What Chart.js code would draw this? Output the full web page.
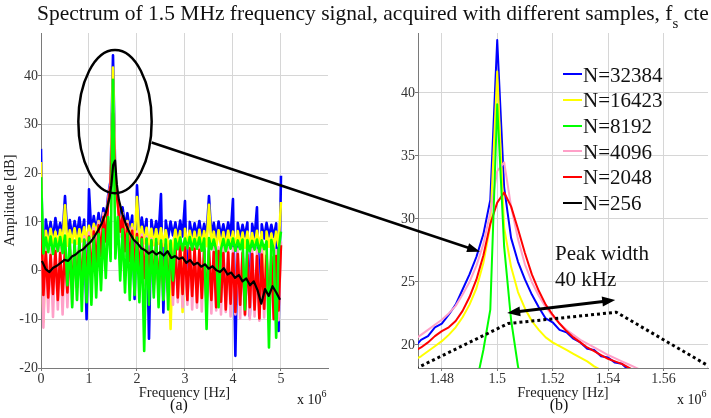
<!DOCTYPE html>
<html>
<head>
<meta charset="utf-8">
<script src="https://cdn.jsdelivr.net/npm/chart.js"></script>
<style>
    body { margin: 0; background: #fff; }
    #wrap { position: relative; width: 711px; height: 418px; overflow: hidden; background: #fff;
            font-family: 'Liberation Serif', 'Times New Roman', serif; color: #111; }
    #wrap canvas, #wrap .txt { position: absolute; }
    .txt { white-space: nowrap; }
    #title { left: 37px; top: 3px; font-size: 21.5px; line-height: 21.5px; }
    #title sub { font-size: 15px; vertical-align: -8px; line-height: 0; }
    .cap { font-size: 16px; line-height: 16px; width: 60px; text-align: center; top: 397px; }
    .mult { font-size: 14px; line-height: 14px; top: 393px; }
    .mult sup { font-size: 10px; vertical-align: 7px; line-height: 0; }
    #legend { left: 563px; top: 0; }
    .row { position: absolute; left: 0; height: 26px; font-size: 21px; line-height: 25.7px; white-space: nowrap; }
    .row .sample { position: absolute; left: 0; top: 10.7px; width: 19px; height: 2px; }
    .row span { position: absolute; left: 20px; top: 0; }
    #peak { left: 555px; top: 240px; font-size: 21px; line-height: 26px; }
</style>
</head>
<body>
<div id="wrap">
    <canvas id="chartA" width="345" height="418" style="left:0;top:0"></canvas>
    <canvas id="chartB" width="351" height="418" style="left:360px;top:0"></canvas>
    <canvas id="ann" width="711" height="418" style="left:0;top:0;pointer-events:none"></canvas>
    <div id="title" class="txt">Spectrum of 1.5 MHz frequency signal, acquired with different samples, f<sub>s</sub> cte</div>
    <div class="txt cap" style="left:149px">(a)</div>
    <div class="txt cap" style="left:529px">(b)</div>
    <div class="txt mult" style="left:297px">x 10<sup>6</sup></div>
    <div class="txt mult" style="left:677px">x 10<sup>6</sup></div>
    <div id="legend" class="txt"></div>
    <div id="peak" class="txt">Peak width<br>40 kHz</div>
</div>
<script>
// (a) full spectrum, frequency in MHz (axis shows x 10^6 Hz)
const freqA = [0, 0.05, 0.1, 0.15, 0.2, 0.25, 0.3, 0.35, 0.4, 0.45,
    0.5, 0.55, 0.6, 0.65, 0.7, 0.75, 0.8, 0.85, 0.9, 0.95,
    1, 1.05, 1.1, 1.15, 1.2, 1.25, 1.3, 1.35, 1.4, 1.45,
    1.5, 1.55, 1.6, 1.65, 1.7, 1.75, 1.8, 1.85, 1.9, 1.95,
    2, 2.05, 2.1, 2.15, 2.2, 2.25, 2.3, 2.35, 2.4, 2.45,
    2.5, 2.55, 2.6, 2.65, 2.7, 2.75, 2.8, 2.85, 2.9, 2.95,
    3, 3.05, 3.1, 3.15, 3.2, 3.25, 3.3, 3.35, 3.4, 3.45,
    3.5, 3.55, 3.6, 3.65, 3.7, 3.75, 3.8, 3.85, 3.9, 3.95,
    4, 4.05, 4.1, 4.15, 4.2, 4.25, 4.3, 4.35, 4.4, 4.45,
    4.5, 4.55, 4.6, 4.65, 4.7, 4.75, 4.8, 4.85, 4.9, 4.95,
    5];

const blueA = [25, -8, 10.5, 7, 10, 6.5, 10.8, 7.5, 9.8, 7,
    15.3, 7.2, 10.4, 6.8, 10.2, 7.4, 10.9, 7, 10.5, -10,
    16.7, 7.6, 11.2, 8, 11.8, 8.6, 12.8, 10.5, 15.5, 18.5,
    44.2, 18, 15.2, 11, 13, 9, 11.8, 8.2, 11.3, -5.8,
    17.5, 7.8, 10.9, 7.2, 10.6, -14, 10.4, 7, 10.2, 7.4,
    15.7, -8.6, 10.3, 6.8, 10.1, 7.2, 9.9, 6.6, 10.3, 7,
    14.3, -6.2, 10, 6.9, 9.7, 7.1, 10.2, 6.8, 9.6, 7,
    15.3, 6.9, 9.8, 6.6, 10.1, 7, 9.5, 6.8, 9.9, 7.2,
    14.7, -17.5, 9.8, 6.7, 9.4, 7, 9.9, -9.3, 9.6, 6.8,
    13, -8.3, 9.5, 6.6, 9.8, 7, 9.4, 6.9, 9.7, -12.4,
    19.5];

const yellowA = [22.3, -10.5, 8.2, 5.2, 8.6, 5.6, 8, 5, 8.4, 5.4,
    13.4, 5.1, 8.3, 5.8, 8.7, 5.5, 8.5, 6, 8.9, 6.3,
    9.2, 7, 9.6, 7.8, 10.2, 8.6, 11, 9.5, 14, 17.5,
    41.7, 17, 13.6, 9.8, 11.2, 7.6, 10.2, 6.8, 9.5, 6.3,
    15.1, 6, 9, 5.6, 8.8, 5.4, 8.6, 5.2, 8.5, 5.5,
    8.7, 5.1, 8.3, 5.4, -12, 5.2, 8.4, 5.3, 8.1, -8.5,
    8.6, 5, 8.2, 5.3, 8, 4.9, 8.4, 5.2, 8.1, 5,
    13.5, 5.3, 8, 4.8, 8.3, 5.1, 7.9, 4.9, 8.2, 5,
    8, 4.8, 8.1, 5.2, 7.8, 4.7, 8, 5, 7.7, 4.8,
    8.2, 5, 7.9, -8, 8, 4.9, 7.6, 4.7, 8, 5,
    14.1];

const greenA = [19.2, 3.5, 6.8, 3.8, 7, 3.4, 6.6, 4, 6.9, 3.6,
    7.2, -3, 6.5, -7.5, 6.2, -6, 6.6, -8.3, 6.4, -6.5,
    6.8, -7, 7, -5.5, 7.5, -4, 8.5, -1.5, 11, 2,
    39.2, 2.5, 11, -2, 8.5, -4.5, 7.6, -6, 7, -5,
    6.8, -6.5, 6.5, -16.5, 6.6, -7, 6.3, -5.5, 6.5, -7.5,
    6.2, -6, 6.4, -8, 6.2, -2, 6.5, 4.4, 6.8, 4.2,
    6.6, 4.6, 6.9, 4.3, 6.5, 4.5, 6.8, 4.1, 6.6, -12,
    6.7, 4.4, 6.4, 4.2, -7.5, 4.4, 6.5, 4, 6.3, 4.5,
    6.6, 4.1, 6.2, 4.4, 6.4, -8, 6.3, 4, 6.1, 4.3,
    6.4, 3.9, 6.2, 4.4, 6, -15.8, 6.3, 4.2, -13.8, 4.1,
    8];

const pinkA = [16.7, -11.7, 5, -8.5, 4.5, -9.5, 5.2, -8, 4.8, -9,
    5.5, -7.5, 5.6, -7, 6, -6, 6.5, -5, 7, -4,
    7.8, -3, 8.7, -1, 10, 1.5, 11.8, 5, 14.8, 18,
    34.4, 18, 14.5, 7, 11.8, 3, 10, 1, 8.8, -0.5,
    8, -1.8, 7.4, -3, 7, -3.8, 6.6, -4.5, 6.4, -5,
    6.2, -5.8, 6, -6.2, 6, -7, 5.8, -6.5, 5.6, -7.5,
    5.5, -7, 5.4, -8, 5.3, -7.6, 5.2, -8.4, 5, -8,
    5.1, -8.8, 5, -8.2, 4.8, -9, 4.9, -8.5, 4.7, -9.4,
    4.6, -9, 4.5, -9.8, 4.6, -9.2, 4.4, -10, 4.5, -9.4,
    4.3, -10.3, 4.4, -9.6, 4.2, -10.5, 4.3, -9.8, 4.2, -10.2,
    6];

const redA = [13, -5, 3.8, -5.5, 3.2, -4.8, 4, -6, 3.6, -5,
    4.2, -4.5, 4.4, -3.8, 5, -3.5, 5.5, -3, 6.2, -2,
    7, -1, 8, 1, 9.3, 3, 11, 6, 14, 17.5,
    32.3, 17.5, 13.8, 8, 11.2, 4, 9.5, 2, 8.2, 0.5,
    7.5, -0.5, 6.8, -1.5, 6.4, -2.5, 6, -3, 5.8, -3.5,
    5.6, -4, 5.4, -4.5, 5.5, -5, 5.2, -5.5, 5, -4.8,
    4.8, -6, 4.6, -5.2, 4.5, -6.5, 4.3, -5.6, 4.4, -7,
    4, -6, 3.8, -7.5, 4, -6.4, 3.6, -8, 3.7, -6.8,
    3.5, -8.5, 3.4, -7, 3.6, -9, 3.2, -7.5, 3.4, -8,
    3, -9.8, 3.3, -7.8, 3.1, -8.5, 2.8, -10, 3, -8.2,
    5.2];

// N=256 has coarse bins, used in both panels
const blackFreq = [0.0195, 0.0977, 0.1758, 0.2539, 0.3320, 0.4102, 0.4883, 0.5664, 0.6445, 0.7227,
    0.8008, 0.8789, 0.9570, 1.0352, 1.1133, 1.1914, 1.2695, 1.3477, 1.4258, 1.4648,
    1.5039, 1.5430, 1.5820, 1.6211, 1.6992, 1.7773, 1.8555, 1.9336, 2.0117, 2.0898,
    2.1680, 2.2461, 2.3242, 2.4023, 2.4805, 2.5586, 2.6367, 2.7148, 2.7930, 2.8711,
    2.9492, 3.0273, 3.1055, 3.1836, 3.2617, 3.3398, 3.4180, 3.4961, 3.5742, 3.6523,
    3.7305, 3.8086, 3.8867, 3.9648, 4.0430, 4.1211, 4.1992, 4.2773, 4.3555, 4.4336,
    4.5117, 4.5898, 4.6680, 4.7461, 4.8242, 4.9023, 4.9805];
const blackDb = [2.0, 0.3, -0.3, 0.6, 1.0, 1.6, 2.2, 2.0, 2.9, 3.3,
    4.0, 4.4, 5.2, 5.9, 7.0, 8.3, 9.8, 11.8, 14.8, 17.5,
    21.7, 22.6, 17.6, 14.6, 11.5, 9.3, 7.6, 6.3, 5.6, 4.6,
    4.2, 3.5, 4.0, 3.3, 3.8, 3.1, 4.0, 2.6, 3.0, 2.4,
    2.7, 1.6, 2.2, 1.2, 1.6, 0.8, 1.3, 0.4, 0.9, 0.1,
    -0.3, 0.5, -0.8, -0.4, -1.5, -0.9, -2.2, -1.6, -3.0, -2.2,
    -4.0, -6.8, -3.8, -5.2, -3.2, -4.5, -6.0];

// (b) zoom around the carrier
const freqB = [1.4700, 1.4725, 1.4750, 1.4775, 1.4800, 1.4825, 1.4850, 1.4875, 1.4900, 1.4925,
    1.4950, 1.4975, 1.5000, 1.5025, 1.5050, 1.5075, 1.5100, 1.5125, 1.5150, 1.5175,
    1.5200, 1.5225, 1.5250, 1.5275, 1.5300, 1.5325, 1.5350, 1.5375, 1.5400, 1.5425,
    1.5450, 1.5475, 1.5500, 1.5525, 1.5550];
const blueB = [19.8, 20.4, 20.7, 21.4, 21.7, 22.4, 23.2, 24.4, 25.6, 27.0,
    28.8, 31.5, 44.2, 32.5, 28.5, 26.6, 25.2, 24.0, 23.0, 22.1,
    21.8, 21.2, 21.0, 20.5, 20.2, 19.7, 19.6, 19.1, 19.0, 18.6,
    18.5, 18.0, 17.8, 17.5, 17.2];
const yellowB = [18.8, 19.1, 19.5, 19.9, 20.3, 20.8, 21.4, 22.2, 23.2, 24.5,
    26.5, 29.5, 41.7, 29.3, 26.2, 24.2, 22.9, 21.9, 21.2, 20.6,
    20.2, 19.9, 19.6, 19.3, 19.0, 18.7, 18.3, 18.0, 17.7, 17.4,
    17.1, 16.8, 16.5, 16.2, 15.9];
const greenB = [10.0, 10.5, 11.0, 11.5, 12.0, 12.6, 13.3, 14.2, 15.4, 17.0,
    19.6, 22.8, 39.1, 27.8, 22.0, 18.3, 16.0, 14.6, 13.6, 12.8,
    12.2, 11.7, 11.2, 10.8, 10.4, 10.0, 9.7, 9.4, 9.1, 8.8,
    8.5, 8.2, 8.0, 7.8, 7.6];
const pinkB = [20.4, 20.8, 21.2, 21.6, 22.0, 22.5, 23.1, 24.0, 25.0, 26.3,
    28.0, 30.5, 33.8, 34.5, 31.0, 28.4, 26.4, 25.0, 23.9, 23.0,
    22.3, 21.7, 21.2, 20.8, 20.4, 20.1, 19.8, 19.5, 19.2, 18.95,
    18.7, 18.45, 18.2, 17.95, 17.7];
const redB = [19.5, 19.8, 20.2, 20.7, 21.1, 21.4, 21.9, 22.7, 23.8, 25.2,
    27.1, 29.6, 31.3, 32.1, 31.0, 29.2, 27.3, 25.6, 24.3, 23.2,
    22.4, 21.7, 21.1, 20.6, 20.2, 19.8, 19.5, 19.2, 18.9, 18.7,
    18.5, 18.2, 17.9, 17.6, 17.3];

const labels = ['N=32384', 'N=16423', 'N=8192', 'N=4096', 'N=2048', 'N=256'];
const freqTicksA = [0, 1, 2, 3, 4, 5];
const ampTicksA = [-20, -10, 0, 10, 20, 30, 40];
const freqTicksB = [1.48, 1.5, 1.52, 1.54, 1.56];
const ampTicksB = [20, 25, 30, 35, 40];

const colors = ['#0000ff', '#ffff00', '#00ff00', '#ffa0c8', '#ff0000', '#000000'];
const gridColor = '#d6d6d6';
const axisColor = '#7a7a7a';
const serif = "'Liberation Serif', 'Times New Roman', serif";
const tickFont = { family: serif, size: 14 };
const titleFont = { family: serif, size: 14.5 };
Chart.defaults.font.family = serif;

function pts(xs, ys) {
    return xs.map(function (x, i) { return { x: x, y: ys[i] }; });
}

function trace(i, xs, ys, order, width, dash) {
    return {
        label: labels[i],
        data: pts(xs, ys),
        borderColor: colors[i],
        backgroundColor: colors[i],
        borderWidth: width,
        borderDash: dash || [],
        pointRadius: 0,
        fill: false,
        order: order
    };
}

function numLabel(v) {
    return String(Math.round(v * 100) / 100);
}

function axis(min, max, ticks, fixSize, isX, title) {
    return {
        type: 'linear',
        min: min,
        max: max,
        afterFit: function (s) { if (isX) s.height = fixSize; else s.width = fixSize; },
        afterBuildTicks: function (s) { s.ticks = ticks.map(function (v) { return { value: v }; }); },
        ticks: { font: tickFont, color: '#333', padding: 0, maxRotation: 0, autoSkip: false, callback: numLabel },
        grid: { color: gridColor, tickLength: 3, tickColor: axisColor },
        border: { color: axisColor },
        title: title ? { display: true, text: title, font: titleFont, color: '#222',
                         padding: isX ? { top: 0, bottom: 16 } : { top: 1, bottom: 0 } } : { display: false }
    };
}

function baseOptions(padding) {
    return {
        responsive: false,
        animation: false,
        devicePixelRatio: 1,
        layout: { padding: padding },
        plugins: { legend: { display: false }, tooltip: { enabled: false } },
        elements: { line: { tension: 0, borderJoinStyle: 'round' }, point: { radius: 0 } }
    };
}

const optsA = baseOptions({ left: 0, top: 33, right: 17, bottom: 0 });
optsA.scales = {
    x: axis(0, 5.98, freqTicksA, 50, true, 'Frequency [Hz]'),
    y: axis(-20, 48.8, ampTicksA, 41, false, 'Amplitude [dB]')
};
const chartA = new Chart(document.getElementById('chartA'), {
    type: 'line',
    data: {
        datasets: [
            trace(0, freqA, blueA, 5, 2.6),
            trace(1, freqA, yellowA, 4, 2.6),
            trace(2, freqA, greenA, 1, 2.6),
            trace(3, freqA, pinkA, 3, 2.6),
            trace(4, freqA, redA, 2, 2.6),
            trace(5, blackFreq, blackDb, 0, 2.2)
        ]
    },
    options: optsA
});

const optsB = baseOptions({ left: 18, top: 33, right: 3, bottom: 0 });
optsB.scales = {
    x: axis(1.4714, 1.5761, freqTicksB, 50, true, 'Frequency [Hz]'),
    y: axis(18.17, 44.76, ampTicksB, 40, false, null)
};
const chartB = new Chart(document.getElementById('chartB'), {
    type: 'line',
    data: {
        datasets: [
            trace(0, freqB, blueB, 5, 2),
            trace(1, freqB, yellowB, 4, 2),
            trace(2, freqB, greenB, 1, 2),
            trace(3, freqB, pinkB, 3, 2),
            trace(4, freqB, redB, 2, 2),
            trace(5, blackFreq, blackDb, 0, 3, [3, 3])
        ]
    },
    options: optsB
});

// legend
var legendHtml = '';
labels.forEach(function (name, i) {
    legendHtml += '<div class="row" style="top:' + (62.6 + i * 25.7) + 'px">' +
        '<div class="sample" style="background:' + colors[i] + '"></div><span>' + name + '</span></div>';
});
document.getElementById('legend').innerHTML = legendHtml;

// zoom marker, connecting arrow and peak width arrow
function arrowHead(ctx, x1, y1, x2, y2, len, half) {
    var a = Math.atan2(y2 - y1, x2 - x1);
    ctx.beginPath();
    ctx.moveTo(x2, y2);
    ctx.lineTo(x2 - len * Math.cos(a) + half * Math.sin(a), y2 - len * Math.sin(a) - half * Math.cos(a));
    ctx.lineTo(x2 - len * Math.cos(a) - half * Math.sin(a), y2 - len * Math.sin(a) + half * Math.cos(a));
    ctx.closePath();
    ctx.fill();
}

function drawNotes() {
    var ctx = document.getElementById('ann').getContext('2d');
    var offB = 360;
    var xa = chartA.scales.x, ya = chartA.scales.y, xb = chartB.scales.x, yb = chartB.scales.y;
    ctx.strokeStyle = '#000';
    ctx.fillStyle = '#000';

    var cx = xa.getPixelForValue(1.542), cy = ya.getPixelForValue(30.6);
    var rx = xa.getPixelForValue(1.542 + 0.764) - cx, ry = cy - ya.getPixelForValue(30.6 + 14.7);
    ctx.lineWidth = 2.5;
    ctx.beginPath();
    ctx.ellipse(cx, cy, rx, ry, 0, 0, Math.PI * 2);
    ctx.stroke();

    var x1 = xa.getPixelForValue(2.306), y1 = ya.getPixelForValue(26.3);
    var x2 = offB + xb.getPixelForValue(1.4938), y2 = yb.getPixelForValue(27.4);
    var a = Math.atan2(y2 - y1, x2 - x1);
    ctx.beginPath();
    ctx.moveTo(x1, y1);
    ctx.lineTo(x2 - 10 * Math.cos(a), y2 - 10 * Math.sin(a));
    ctx.stroke();
    arrowHead(ctx, x1, y1, x2, y2, 13, 4.5);

    var p1x = offB + xb.getPixelForValue(1.5036), p1y = yb.getPixelForValue(22.54);
    var p2x = offB + xb.getPixelForValue(1.5426), p2y = yb.getPixelForValue(23.57);
    var b = Math.atan2(p2y - p1y, p2x - p1x);
    ctx.lineWidth = 3;
    ctx.beginPath();
    ctx.moveTo(p1x + 10 * Math.cos(b), p1y + 10 * Math.sin(b));
    ctx.lineTo(p2x - 10 * Math.cos(b), p2y - 10 * Math.sin(b));
    ctx.stroke();
    arrowHead(ctx, p1x, p1y, p2x, p2y, 13, 5);
    arrowHead(ctx, p2x, p2y, p1x, p1y, 13, 5);
}

drawNotes();
</script>
</body>
</html>
